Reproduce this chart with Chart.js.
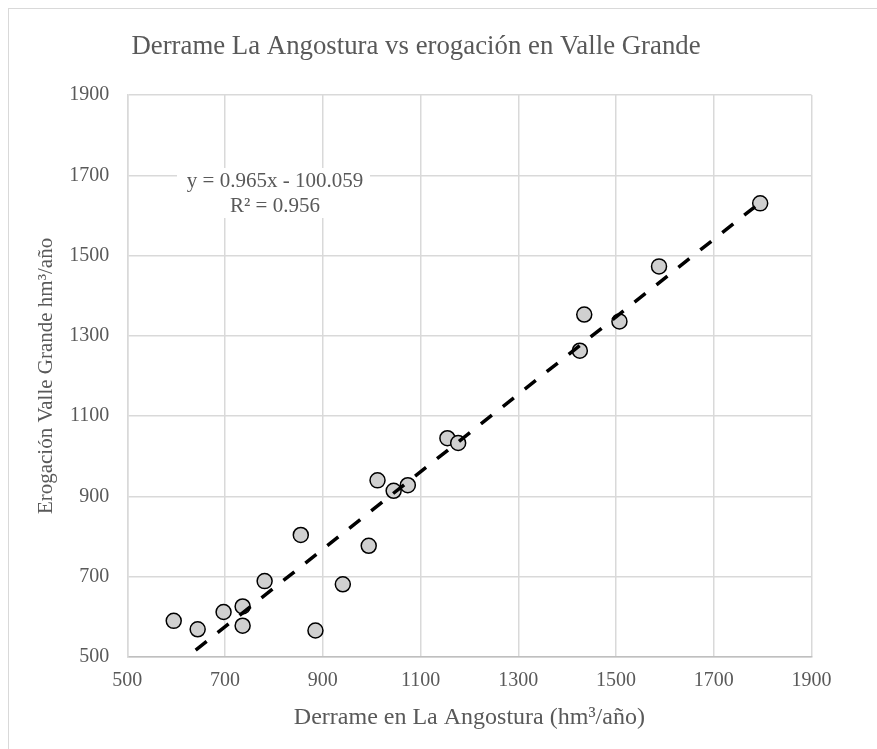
<!DOCTYPE html>
<html>
<head>
<meta charset="utf-8">
<script src="https://cdn.jsdelivr.net/npm/chart.js@4/dist/chart.umd.min.js"></script>
<style>
  html, body { margin: 0; padding: 0; background: #fff; overflow: hidden; }
  #frame { position: absolute; left: 8px; top: 8px; width: 1000px; height: 1000px;
           border-left: 1px solid #d9d9d9; border-top: 1px solid #d9d9d9; }
  #graphique { position: absolute; left: 0; top: 0; }
</style>
</head>
<body>
<div id="frame"></div>
<canvas id="graphique" width="877" height="749"></canvas>
<script>
// Derrame en La Angostura (x) vs erogación en Valle Grande (y), hm³/año
const derrame   = [595, 644, 697, 736, 736, 781, 855, 885, 941, 994, 1012, 1045, 1074, 1155, 1177, 1426, 1435, 1507, 1588, 1795];
const erogacion = [590, 569, 612, 626, 578, 689, 804, 566, 681, 777, 940, 914, 928, 1045, 1033, 1263, 1353, 1336, 1473, 1630];

// linea de tendencia: y = 0.965x - 100.059
const tendenciaX = [595, 1795];
const tendenciaY = [474, 1632];
const ecuacion = ["y = 0.965x - 100.059", "R² = 0.956"];

const gris = "#595959";
const fuente = "'Liberation Serif', 'Times New Roman', serif";

const puntos = derrame.map((x, i) => ({x: x, y: erogacion[i]}));
const tendencia = tendenciaX.map((x, i) => ({x: x, y: tendenciaY[i]}));

const etiquetaEcuacion = {
    id: "etiquetaEcuacion",
    afterDatasetsDraw(chart) {
        const ctx = chart.ctx;
        ctx.save();
        ctx.fillStyle = "#fff";
        ctx.fillRect(177, 168, 193, 50);
        ctx.fillStyle = gris;
        ctx.font = "21px " + fuente;
        ctx.textAlign = "center";
        ctx.textBaseline = "middle";
        ctx.fillText(ecuacion[0], 275, 181);
        ctx.fillText(ecuacion[1], 275, 206);
        ctx.restore();
    }
};

const data = {
    datasets: [{
        label: "Tendencia",
        data: tendencia,
        showLine: true,
        borderColor: "#000",
        borderWidth: 3.5,
        borderDash: [14, 14],
        pointRadius: 0,
        order: 0
    }, {
        label: "Datos",
        data: puntos,
        backgroundColor: "#d0d0d0",
        borderColor: "#000",
        borderWidth: 1.5,
        pointRadius: 7.5,
        order: 1
    }]
};

const config = {
    type: "scatter",
    data: data,
    options: {
        responsive: false,
        animation: false,
        layout: {
            padding: {left: 20.5, right: 65.5, top: 0, bottom: 0}
        },
        scales: {
            x: {
                min: 500,
                max: 1900,
                afterFit: function (scale) { scale.height = 92; },
                ticks: {
                    stepSize: 200,
                    padding: 12,
                    color: gris,
                    font: {family: fuente, size: 20},
                    callback: function (v) { return String(v); }
                },
                grid: {color: "#d9d9d9", lineWidth: 1.5, drawTicks: false},
                border: {color: "#bfbfbf", width: 1.5},
                title: {
                    display: true,
                    text: "Derrame en La Angostura (hm³/año)",
                    color: gris,
                    font: {family: fuente, size: 24},
                    padding: {top: 0, bottom: 17}
                }
            },
            y: {
                min: 500,
                max: 1900,
                afterFit: function (scale) { scale.width = 106.8; },
                ticks: {
                    stepSize: 200,
                    padding: 18,
                    color: gris,
                    font: {family: fuente, size: 20},
                    callback: function (v) { return String(v); }
                },
                grid: {color: "#d9d9d9", lineWidth: 1.5, drawTicks: false},
                border: {color: "#d9d9d9", width: 1.5},
                title: {
                    display: true,
                    text: "Erogación Valle Grande hm³/año",
                    color: gris,
                    font: {family: fuente, size: 21},
                    padding: {top: 13, bottom: 0}
                }
            }
        },
        plugins: {
            title: {
                display: true,
                text: "Derrame La Angostura vs erogación en Valle Grande",
                color: gris,
                font: {family: fuente, size: 26.8, weight: "normal"},
                padding: {top: 30.4, bottom: 32.4}
            },
            legend: {display: false},
            tooltip: {enabled: false}
        }
    },
    plugins: [etiquetaEcuacion]
};

const chart1 = new Chart(document.querySelector("#graphique"), config);
</script>
</body>
</html>
